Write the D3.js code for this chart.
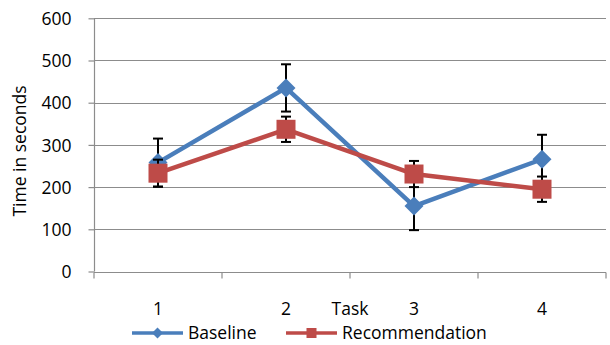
<!DOCTYPE html>
<html><head><meta charset="utf-8">
<script src="https://cdn.jsdelivr.net/npm/d3@7"></script>
<style>body{margin:0;background:#fff}text{font-family:"Open Sans",Calibri,sans-serif;fill:#000}</style>
</head><body>
<svg id="c" width="610" height="345"></svg>
<script>
const tasks = ["1","2","3","4"];
const baseline = [258, 435, 155, 266];
const baselineErr = [57, 56, 57, 58];
const recommendation = [233, 337, 231, 195];
const recommendationErr = [32, 30, 31, 30];
const yTicks = [0,100,200,300,400,500,600];

const FS = "17.5px";
const svg = d3.select("#c");
const x = d3.scaleBand().domain(tasks).range([94, 606]);
const y = d3.scaleLinear().domain([0,600]).range([271.5, 18.3]);
const grid = "#8c8c8c";

// gridlines
svg.append("g").selectAll("line").data(yTicks.slice(1)).join("line")
  .attr("x1",94).attr("x2",606).attr("y1",d=>Math.round(y(d))+0.5).attr("y2",d=>Math.round(y(d))+0.5)
  .attr("stroke",grid).attr("stroke-width",1.2);

// y axis
const ya = svg.append("g").attr("transform","translate(94.5,0)")
  .call(d3.axisLeft(y).tickValues(yTicks).tickSize(6).tickPadding(17));
ya.select(".domain").attr("stroke",grid).attr("stroke-width",1.2).attr("d","M0,"+y(600)+"V"+y(0));
ya.selectAll(".tick line").attr("stroke",grid).attr("stroke-width",1.2);
ya.selectAll(".tick text").style("font-size",FS).attr("dy","0.35em");

// x axis
const xa = svg.append("g").attr("transform","translate(0,"+(Math.round(y(0))+0.5)+")");
xa.append("line").attr("x1",94).attr("x2",606).attr("stroke",grid).attr("stroke-width",1.2);
const edges = tasks.map(t=>x(t)).concat([x(tasks[3])+x.bandwidth()]);
xa.selectAll("line.t").data(edges).join("line").attr("class","t")
  .attr("x1",d=>d).attr("x2",d=>d).attr("y1",0).attr("y2",6).attr("stroke",grid).attr("stroke-width",1.2);
xa.selectAll("text").data(tasks).join("text")
  .attr("x",d=>x(d)+x.bandwidth()/2).attr("y",42.5).attr("text-anchor","middle")
  .style("font-size",FS).text(d=>d);
xa.append("text").attr("x",x("3")).attr("y",42.5).attr("text-anchor","middle").style("font-size",FS).text("Task");

// y title
svg.append("text").attr("transform","translate(26,151) rotate(-90)").attr("text-anchor","middle")
  .style("font-size",FS).text("Time in seconds");

const cx = d => x(d)+x.bandwidth()/2;
const series = [
  {vals: baseline, err: baselineErr, color:"#4a7ebb", marker:"diamond"},
  {vals: recommendation, err: recommendationErr, color:"#be4b48", marker:"square"}
];
const diamond = (g,px,py,s)=>g.append("path").attr("d",`M${px},${py-s}L${px+s},${py}L${px},${py+s}L${px-s},${py}Z`);
const square = (g,px,py,s)=>g.append("rect").attr("x",px-s).attr("y",py-s).attr("width",2*s).attr("height",2*s);

series.forEach(s=>{
  const g = svg.append("g");
  tasks.forEach((t,i)=>{
    const px = cx(t), top = y(s.vals[i]+s.err[i]), bot = y(s.vals[i]-s.err[i]);
    g.append("line").attr("x1",px).attr("x2",px).attr("y1",top).attr("y2",bot).attr("stroke","#000").attr("stroke-width",2);
    [top,bot].forEach(yy=>g.append("line").attr("x1",px-5).attr("x2",px+5).attr("y1",yy).attr("y2",yy).attr("stroke","#000").attr("stroke-width",2));
  });
  const line = d3.line().x((d,i)=>cx(tasks[i])).y(d=>y(d));
  g.append("path").attr("d",line(s.vals)).attr("fill","none").attr("stroke",s.color).attr("stroke-width",4.5).attr("stroke-linejoin","round");
  tasks.forEach((t,i)=>{
    const m = s.marker==="diamond" ? diamond(g,cx(t),y(s.vals[i]),9.5) : square(g,cx(t),y(s.vals[i]),9.5);
    m.attr("fill",s.color);
  });
});

// legend
const lg = svg.append("g");
const legendItems = [
  {name:"Baseline", color:"#4a7ebb", marker:"diamond", x1:132},
  {name:"Recommendation", color:"#be4b48", marker:"square", x1:286}
];
legendItems.forEach(it=>{
  const ly = 333;
  lg.append("line").attr("x1",it.x1).attr("x2",it.x1+51).attr("y1",ly).attr("y2",ly).attr("stroke",it.color).attr("stroke-width",3.5);
  const m = it.marker==="diamond" ? diamond(lg,it.x1+25.5,ly,5.5) : square(lg,it.x1+25.5,ly,5);
  m.attr("fill",it.color);
  lg.append("text").attr("x",it.x1+56).attr("y",ly).attr("dy","0.35em").style("font-size",FS).text(it.name);
});
</script>
</body></html>
